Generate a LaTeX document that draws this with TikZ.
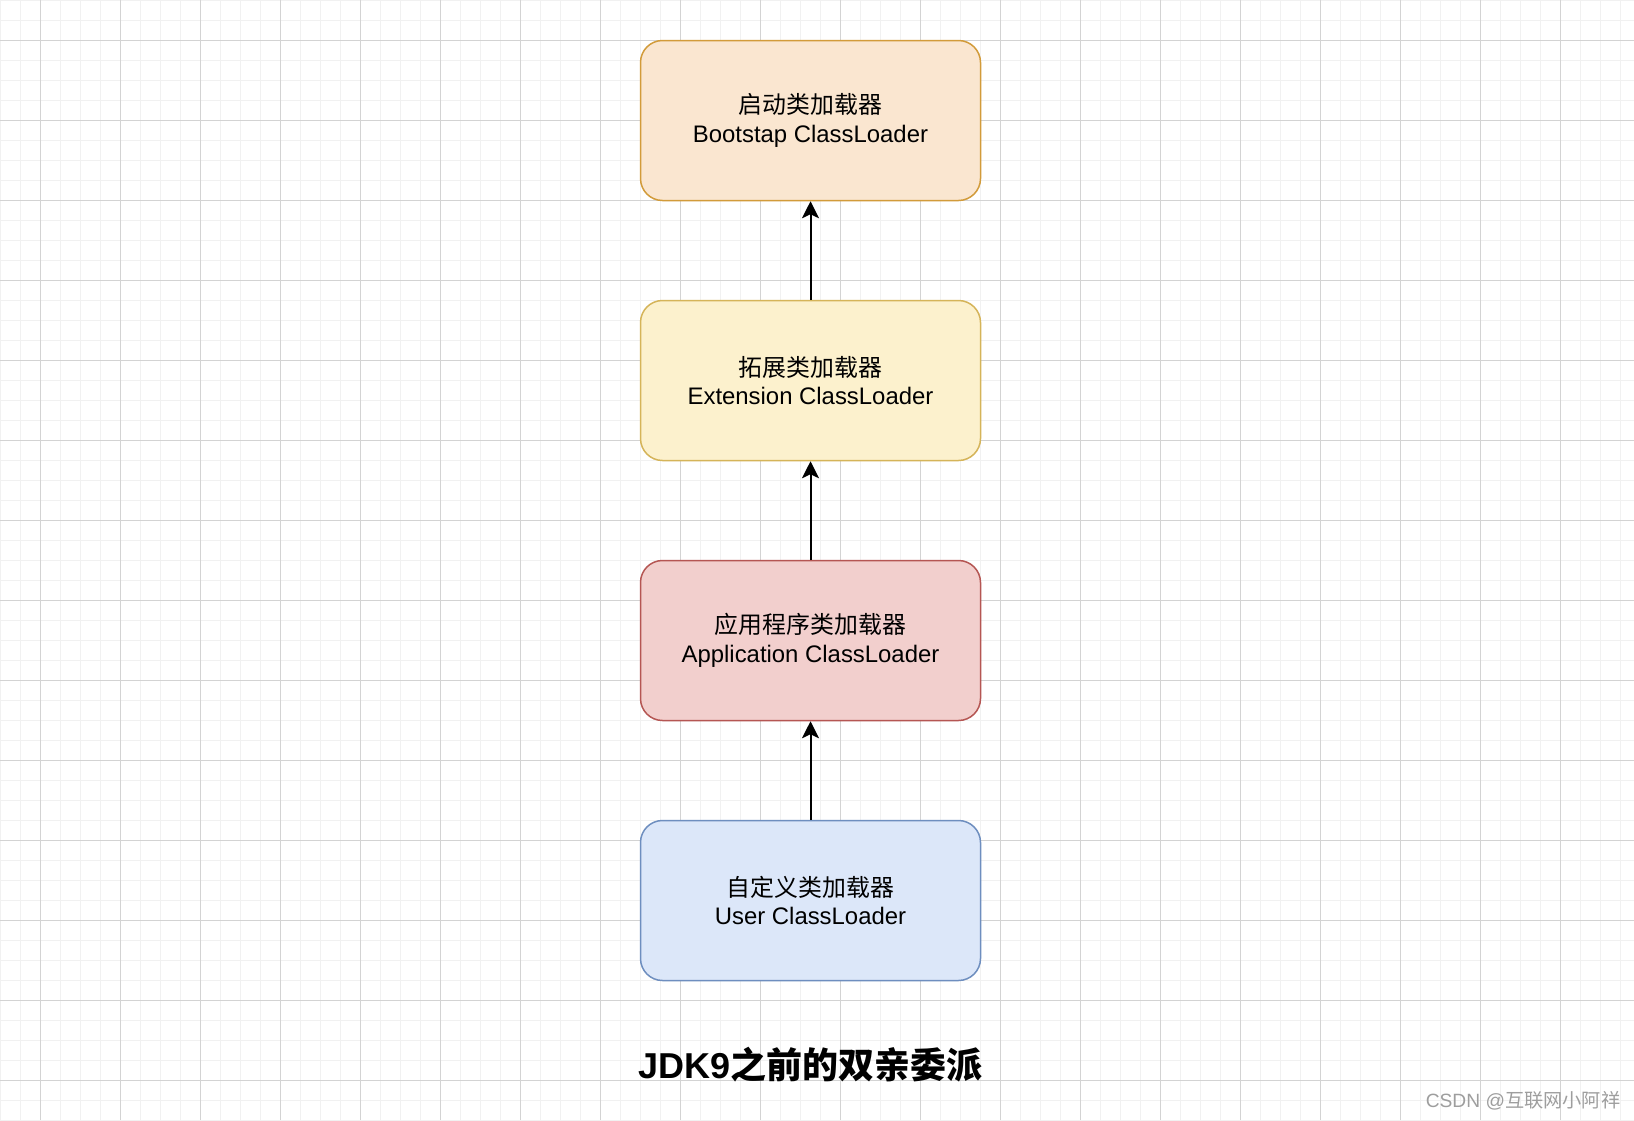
\documentclass[tikz,border=0pt]{standalone}
\usepackage{fontspec}
\setmainfont{Liberation Sans}
\newfontfamily\cjk{Noto Sans CJK SC}
\usetikzlibrary{arrows.meta}
\definecolor{gminor}{HTML}{F1F1F1}
\definecolor{gmajor}{HTML}{D3D3D3}
\definecolor{fillA}{HTML}{FAE6D0}
\definecolor{drawA}{HTML}{D29B3A}
\definecolor{fillB}{HTML}{FCF1CD}
\definecolor{drawB}{HTML}{D5B459}
\definecolor{fillC}{HTML}{F2CFCD}
\definecolor{drawC}{HTML}{B55653}
\definecolor{fillD}{HTML}{DCE7F9}
\definecolor{drawD}{HTML}{6E8EBF}
\definecolor{wmark}{HTML}{9E9E9E}
\tikzset{
  minorline/.style={draw=gminor, line width=1pt},
  majorline/.style={draw=gmajor, line width=1pt},
  loaderbox/.style={rectangle, rounded corners=22pt, minimum width=340pt, minimum height=160pt,
    inner sep=0pt, line width=1.5pt, align=center, font=\fontsize{23.9}{28.5}\selectfont},
  uparrow/.style={line width=2pt, -{Stealth[length=17pt, width=17pt, inset=4pt]}},
}
\begin{document}
\begin{tikzpicture}[x=1pt, y=-1pt]
\useasboundingbox (0,0) rectangle (1634,1120);
\fill[white] (0,0) rectangle (1634,1120);
\begin{scope}
\clip (0,0) rectangle (1634,1120);
\foreach \i in {0,20,...,1640} \draw[minorline] (\i,0) -- (\i,1120);
\foreach \j in {0,20,...,1120} \draw[minorline] (0,\j) -- (1634,\j);
\foreach \i in {40,120,...,1640} \draw[majorline] (\i,0) -- (\i,1120);
\foreach \j in {40,120,...,1120} \draw[majorline] (0,\j) -- (1634,\j);
\end{scope}

\node[loaderbox, fill=fillA, draw=drawA] (boot) at (810.5,120.5) {{\cjk 启动类加载器}\\Bootstap ClassLoader};
\node[loaderbox, fill=fillB, draw=drawB] (ext) at (810.5,380.5) {{\cjk 拓展类加载器}\\Extension ClassLoader};
\node[loaderbox, fill=fillC, draw=drawC] (app) at (810.5,640.5) {{\cjk 应用程序类加载器}\\Application ClassLoader};
\node[loaderbox, fill=fillD, draw=drawD] (user) at (810.5,900.5) {{\cjk 自定义类加载器}\\User ClassLoader};

\draw[uparrow] (ext.north) -- (boot.south);
\draw[uparrow] (app.north) -- (ext.south);
\draw[uparrow] (user.north) -- (app.south);

\node[font=\fontsize{36}{40}\selectfont\bfseries, inner sep=0pt] (title) at (810.5,1065) {JDK9{\cjk\bfseries 之前的双亲委派}};
\node[font=\fontsize{19.2}{22}\selectfont, text=wmark, inner sep=0pt] (wm) at (1523,1101) {CSDN @{\cjk 互联网小阿祥}};
\end{tikzpicture}
\end{document}
